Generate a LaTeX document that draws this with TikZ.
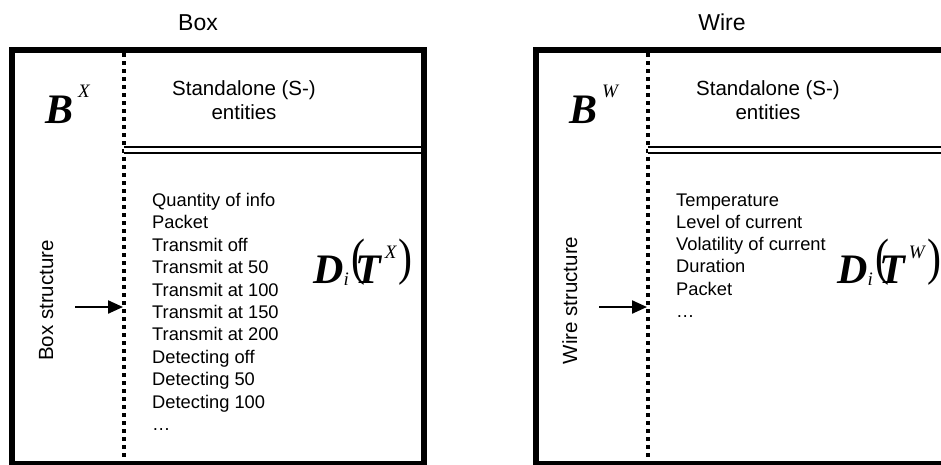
\documentclass[tikz,border=0pt]{standalone}
\usepackage{fontspec}
\setmainfont{Liberation Sans}
\newfontfamily\tnr{Liberation Serif}
\usepackage{graphicx}
\usetikzlibrary{arrows.meta}
\usetikzlibrary{positioning}

% italic symbols in Times style
\newcommand{\bsym}[1]{{\tnr\fontsize{42}{42}\selectfont\textbf{\textit{B}}\kern5pt\raisebox{26pt}{\fontsize{19}{19}\selectfont\textit{#1}}}}
\newcommand{\dsym}[1]{{\tnr\fontsize{42}{42}\selectfont\textbf{\textit{D}}\kern0pt\raisebox{-2pt}{\fontsize{19}{19}\selectfont\textit{i}}\kern3pt\raisebox{9pt}{\scalebox{1}[1.22]{(}}\kern-10pt\textbf{\textit{T}}\kern2pt\raisebox{25pt}{\fontsize{19}{19}\selectfont\textit{#1}}\kern1pt\raisebox{9pt}{\scalebox{1}[1.22]{)}}}}

\begin{document}
\begin{tikzpicture}[x=1pt, y=-1pt,
	frame/.style={draw=black, line width=6pt},
	dotline/.style={draw=black, line width=4pt, dash pattern=on 4pt off 4pt},
	sepline/.style={draw=black, line width=2.2pt, double=white, double distance=3.6pt},
	title/.style={font=\fontsize{23}{23}\selectfont, anchor=base, inner sep=0pt},
	sbox/.style={font=\fontsize{20.5}{24}\selectfont, align=center, inner sep=0pt},
	side/.style={font=\fontsize{20.5}{24}\selectfont, rotate=90, anchor=base, inner sep=0pt},
	item/.style={font=\fontsize{18.3}{18}\selectfont, anchor=base west, inner sep=0pt},
	sym/.style={anchor=base west, inner sep=0pt},
	inarrow/.style={draw=black, line width=2.2pt, -{Triangle[length=15pt, width=13pt]}}]
	\useasboundingbox (0,0) rectangle (941,464);
	\fill[white] (0,0) rectangle (941,464);

	% box panel
	\begin{scope}
		\node[title] (bxtitle) at (198,30) {Box};
		\draw[frame] (12,50) rectangle (423.5,464);
		\draw[dotline] (124,53) -- (124,462);
		\draw[sepline] (124,150.2) -- (421,150.2);
		\node[sym] (bxb) at (45,123) {\bsym{X}};
		\node[sbox] (bxs) at (244,100) {Standalone (S-)\\entities};
		\node[side] (bxside) at (53,300.5) {Box structure};
		\coordinate (bxin) at (75,307);
		\coordinate (bxdot) at (123,307);
		\draw[inarrow] (bxin) -- (bxdot);
		\foreach \t [count=\k] in {Quantity of info, Packet, Transmit off,
			Transmit at 50, Transmit at 100, Transmit at 150, Transmit at 200,
			Detecting off, Detecting 50, Detecting 100, \dots}
		{\node[item] (bx\k) at (152,{206.5+22.4*(\k-1)}) {\t};}
		\node[sym] (bxd) at (313,283) {\dsym{X}};
	\end{scope}

	% wire panel
	\begin{scope}[xshift=524pt]
		\node[title] (wrtitle) at (198,30) {Wire};
		\draw[frame] (12,50) rectangle (423.5,464);
		\draw[dotline] (124,53) -- (124,462);
		\draw[sepline] (124,150.2) -- (421,150.2);
		\node[sym] (wrb) at (45,123) {\bsym{W}};
		\node[sbox] (wrs) at (244,100) {Standalone (S-)\\entities};
		\node[side] (wrside) at (53,300.5) {Wire structure};
		\coordinate (wrin) at (75,307);
		\coordinate (wrdot) at (123,307);
		\draw[inarrow] (wrin) -- (wrdot);
		\foreach \t [count=\k] in {Temperature, Level of current,
			Volatility of current, Duration, Packet, \dots}
		{\node[item] (wr\k) at (152,{206+22.3*(\k-1)}) {\t};}
		\node[sym] (wrd) at (313,283) {\dsym{W}};
	\end{scope}
\end{tikzpicture}
\end{document}
